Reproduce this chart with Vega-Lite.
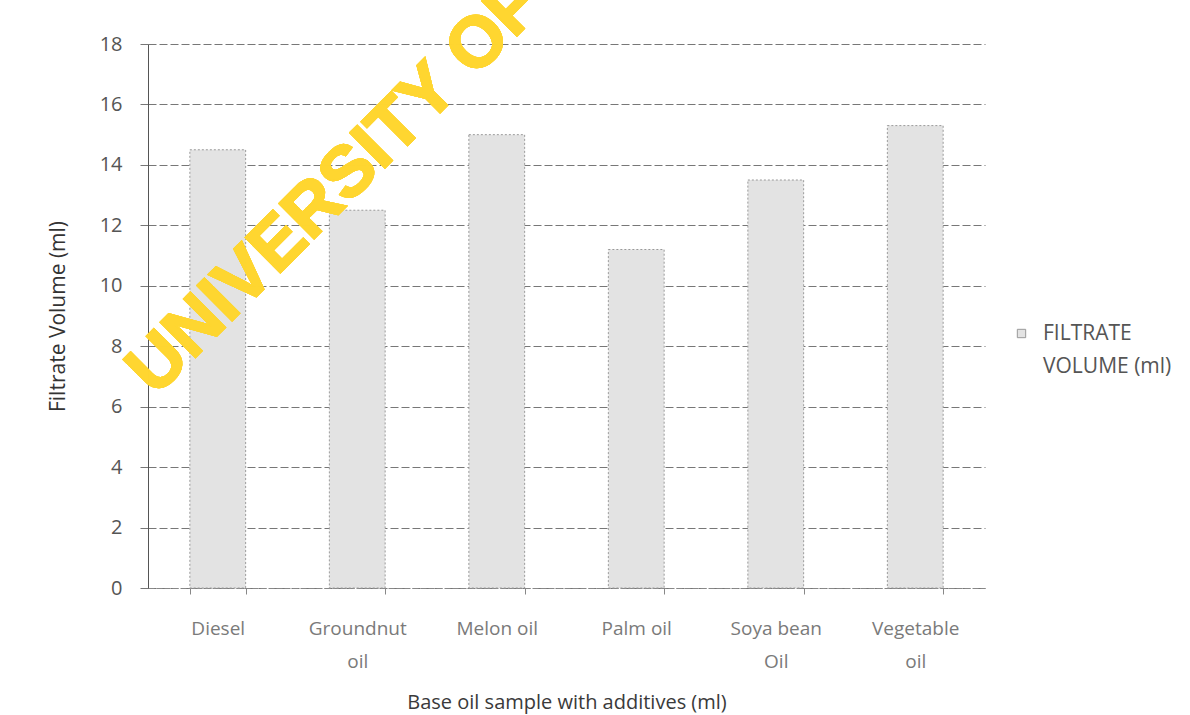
{
  "$schema": "https://vega.github.io/schema/vega-lite/v6.json",
  "width": 837,
  "height": 544,
  "autosize": {"type": "none"},
  "padding": {"left": 148, "top": 44, "right": 205, "bottom": 127},
  "background": "white",
  "config": {
    "font": "Open Sans",
    "view": {"stroke": null},
    "style": {"guide-label": {"lineHeight": 33}}
  },
  "data": {
    "values": [
      {"sample": "Diesel", "volume": 14.5},
      {"sample": "Groundnut oil", "volume": 12.5},
      {"sample": "Melon oil", "volume": 15.0},
      {"sample": "Palm oil", "volume": 11.2},
      {"sample": "Soya bean Oil", "volume": 13.5},
      {"sample": "Vegetable oil", "volume": 15.3}
    ]
  },
  "layer": [
    {
      "mark": {"type": "bar", "stroke": "#9a9a9a", "strokeWidth": 1, "strokeDash": [2, 2]},
      "encoding": {
        "x": {
          "field": "sample",
          "type": "nominal",
          "sort": null,
          "scale": {"paddingInner": 0.6, "paddingOuter": 0.3},
          "axis": {
            "title": "Base oil sample with additives (ml)",
            "titleFontSize": 20,
            "titleFontWeight": "normal",
            "titleColor": "#3a3a3a",
            "titlePadding": 21,
            "labelAngle": 0,
            "labelFontSize": 19,
            "labelColor": "#7a7a7a",
            "labelBaseline": "top",
            "labelPadding": 25,
            "labelExpr": "datum.label == 'Groundnut oil' ? ['Groundnut', 'oil'] : datum.label == 'Soya bean Oil' ? ['Soya bean', 'Oil'] : datum.label == 'Vegetable oil' ? ['Vegetable', 'oil'] : datum.label",
            "tickBand": "extent",
            "tickSize": 6,
            "tickColor": "#888888",
            "domainColor": "#888888",
            "domainDash": [6, 2],
            "grid": false
          }
        },
        "y": {
          "field": "volume",
          "type": "quantitative",
          "scale": {"domain": [0, 18]},
          "axis": {
            "title": "Filtrate Volume (ml)",
            "titleFontSize": 21,
            "titleFontWeight": "normal",
            "titleColor": "#333333",
            "titlePadding": 31,
            "values": [0, 2, 4, 6, 8, 10, 12, 14, 16, 18],
            "labelFontSize": 20,
            "labelColor": "#555555",
            "labelPadding": 18,
            "tickSize": 8,
            "tickColor": "#777777",
            "domainColor": "#555555",
            "grid": true,
            "gridColor": "#777777",
            "gridDash": [8, 3]
          }
        },
        "color": {
          "datum": "FILTRATE VOLUME (ml)",
          "type": "nominal",
          "scale": {"range": ["#e3e3e3"]},
          "legend": {
            "orient": "none",
            "legendX": 863,
            "legendY": 279,
            "title": null,
            "symbolType": "square",
            "symbolSize": 70,
            "symbolStrokeColor": "#999999",
            "symbolStrokeWidth": 1,
            "labelFontSize": 21,
            "labelColor": "#555555",
            "labelOffset": 11,
            "labelLimit": 300,
            "labelExpr": "['FILTRATE', '\u00a0VOLUME (ml)']"
          }
        }
      }
    },
    {
      "mark": {
        "type": "text",
        "text": "UNIVERSITY OF IBADAN",
        "font": "Liberation Sans",
        "fontWeight": "bold",
        "fontSize": 72,
        "angle": 315,
        "align": "left",
        "baseline": "alphabetic",
        "color": "#FFD630",
        "stroke": "#FFD630",
        "strokeWidth": 1.5,
        "opacity": 0.75
      },
      "encoding": {
        "x": {"datum": "Diesel", "bandPosition": -0.62},
        "y": {"datum": 6.3}
      }
    }
  ]
}
